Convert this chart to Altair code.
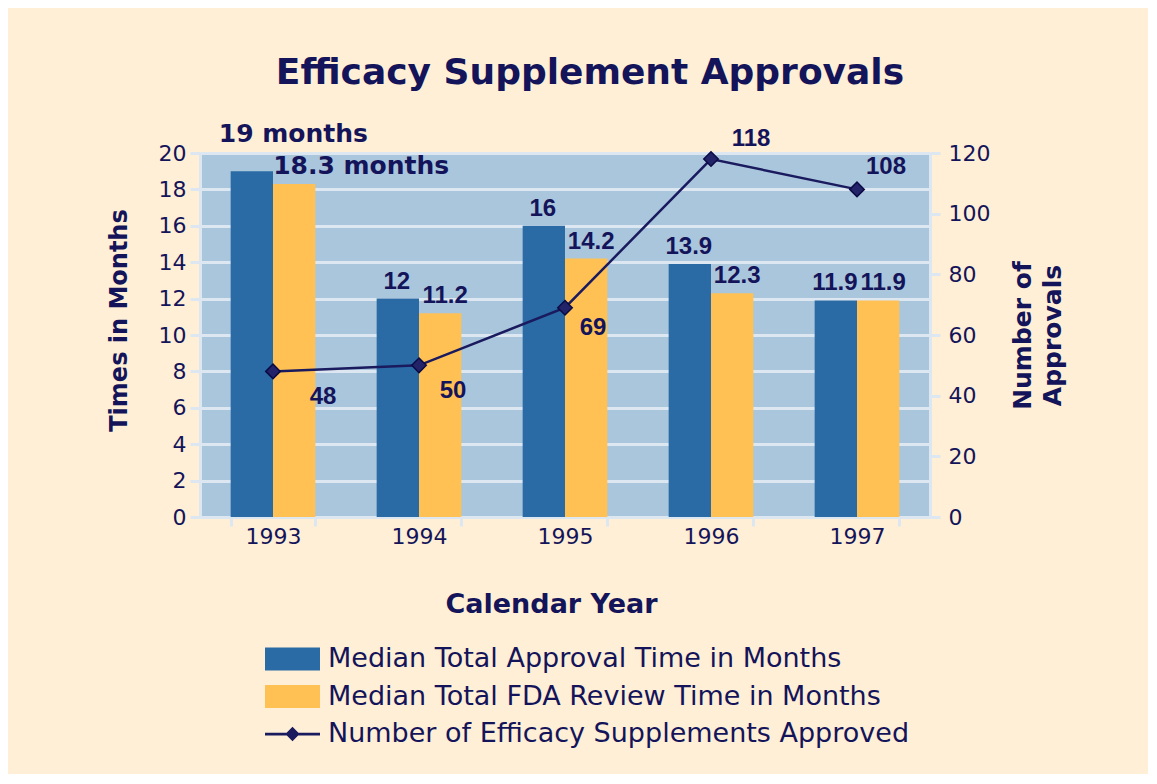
import altair as alt
import pandas as pd

years = ["1993", "1994", "1995", "1996", "1997"]
approval_time = [19, 12, 16, 13.9, 11.9]
review_time = [18.3, 11.2, 14.2, 12.3, 11.9]
approvals_count = [48, 50, 69, 118, 108]
approval_labels = ["19 months", "12", "16", "13.9", "11.9"]
review_labels = ["18.3 months", "11.2", "14.2", "12.3", "11.9"]
series_names = [
    "Median Total Approval Time in Months",
    "Median Total FDA Review Time in Months",
    "Number of Efficacy Supplements Approved",
]
series_colors = ["#2A6BA6", "#FFC154", "#1A1A5E"]
time_ticks = list(range(0, 21, 2))
count_ticks = list(range(0, 121, 20))

FONT = "DejaVu Sans"
NUMFONT = "Liberation Sans"
NAVY = "#14145A"
GRID = "#DCE7F1"
BG = "#FFEFD6"
PLOT_BG = "#AAC6DD"

rect_path = "M-1,-0.42L1,-0.42L1,0.42L-1,0.42Z"
line_path = "M-1,-0.05L1,-0.05L1,0.05L-1,0.05Z M-0.26,0L0,-0.26L0.26,0L0,0.26Z"

bars_df = pd.DataFrame({
    "year": years * 2,
    "series": [series_names[0]] * 5 + [series_names[1]] * 5,
    "value": approval_time + review_time,
    "label": approval_labels + review_labels,
})
line_df = pd.DataFrame({
    "year": years,
    "count": approvals_count,
    "series": [series_names[2]] * 5,
    "label": [str(v) for v in approvals_count],
})

x_axis = alt.Axis(title="Calendar Year", labelAngle=0, labelFont=FONT,
                  labelFontSize=22, labelColor=NAVY, labelPadding=0,
                  tickBand="extent", tickColor=GRID, tickWidth=3, tickSize=9,
                  domainColor=GRID, domainWidth=3,
                  titleFont=FONT, titleFontSize=27, titleFontWeight="bold",
                  titleColor=NAVY, titlePadding=44, titleX=351)
x_enc = alt.X("year:N", sort=years,
              scale=alt.Scale(paddingInner=0.42, paddingOuter=0.21), axis=x_axis)
xoff = alt.XOffset("series:N", sort=series_names[:2], scale=alt.Scale(paddingInner=0, paddingOuter=0))

left_axis = alt.Axis(title="Times in Months", values=time_ticks, grid=True,
                     labelOverlap=False, tickCount=11,
                     gridColor=GRID, gridWidth=3, domainColor=GRID, domainWidth=3,
                     tickColor=GRID, tickWidth=3, tickSize=10,
                     labelFont=FONT, labelFontSize=22, labelColor=NAVY, labelPadding=4,
                     titleFont=FONT, titleFontSize=24, titleFontWeight="bold",
                     titleColor=NAVY, titlePadding=27, titleY=167)
y_left = alt.Y("value:Q", scale=alt.Scale(domain=[0, 20], nice=False), axis=left_axis)

base_bars = alt.Chart(bars_df)
bars = base_bars.mark_bar().encode(
    x=x_enc, xOffset=xoff, y=y_left,
    color=alt.Color("series:N", scale=alt.Scale(domain=series_names, range=series_colors),
                    legend=alt.Legend(title=None)),
)
num_style = dict(font=NUMFONT, fontSize=24, fontWeight="bold", color=NAVY, baseline="middle")
word_style = dict(font=FONT, fontSize=25, fontWeight="bold", color=NAVY, baseline="middle")
bar_text_blue = base_bars.mark_text(align="center", dx=-1, dy=-17, **num_style).encode(
    x=x_enc, xOffset=xoff, y=y_left, text="label:N"
).transform_filter(f"datum.year != '1993' && datum.series == '{series_names[0]}'")
bar_text_orange = base_bars.mark_text(align="center", dx=5, dy=-17, **num_style).encode(
    x=x_enc, xOffset=xoff, y=y_left, text="label:N"
).transform_filter(f"datum.year != '1993' && datum.series == '{series_names[1]}'")
bar_text_a = base_bars.mark_text(align="left", dx=-33, dy=-37, **word_style).encode(
    x=x_enc, xOffset=xoff, y=y_left, text="label:N"
).transform_filter(f"datum.year == '1993' && datum.series == '{series_names[0]}'")
bar_text_b = base_bars.mark_text(align="left", dx=-21, dy=-18, **word_style).encode(
    x=x_enc, xOffset=xoff, y=y_left, text="label:N"
).transform_filter(f"datum.year == '1993' && datum.series == '{series_names[1]}'")

left = alt.layer(bars, bar_text_blue, bar_text_orange, bar_text_a, bar_text_b)

right_axis = alt.Axis(orient="right", title=["Number of", "Approvals"], values=count_ticks,
                      grid=False, labelOverlap=False,
                      domainColor=GRID, domainWidth=3,
                      tickColor=GRID, tickWidth=3, tickSize=10,
                      labelFont=FONT, labelFontSize=22, labelColor=NAVY, labelPadding=8,
                      titleFont=FONT, titleFontSize=25, titleFontWeight="bold",
                      titleColor=NAVY, titleAngle=270, titlePadding=16,
                      titleLineHeight=30)
y_right = alt.Y("count:Q", scale=alt.Scale(domain=[0, 120], nice=False), axis=right_axis)

base_line = alt.Chart(line_df)
line = base_line.mark_line(color="#1A1A5E", strokeWidth=2.5).encode(x=x_enc, y=y_right)
points = base_line.mark_point(shape="diamond", size=210, filled=True, fill="#23236A",
                              stroke="#0B0B45", strokeWidth=1.5, opacity=1).encode(
    x=x_enc, y=y_right)

# label offsets (style only) per year
label_offsets = {"1993": (50, 26), "1994": (34, 26), "1995": (28, 20),
                 "1996": (40, -20), "1997": (29, -22)}
line_texts = [
    base_line.mark_text(align="center", dx=ox, dy=oy, **num_style).encode(
        x=x_enc, y=y_right, text="label:N"
    ).transform_filter(f"datum.year == '{yr}'")
    for yr, (ox, oy) in label_offsets.items()
]
legend_layer = base_line.mark_point(filled=True, opacity=1).encode(
    x=x_enc, y=y_right,
    shape=alt.Shape("series:N", scale=alt.Scale(domain=series_names,
                                                range=[rect_path, rect_path, line_path]),
                    legend=alt.Legend(title=None)),
).transform_filter("datum.count < 0")

right = alt.layer(line, points, *line_texts, legend_layer)

chart = alt.layer(left, right).resolve_scale(y="independent").properties(
    width=730, height=364,
    autosize=alt.AutoSizeParams(type="none"),
    padding={"left": 192, "top": 145, "right": 218, "bottom": 257},
    background=BG,
    title=alt.TitleParams("Efficacy Supplement Approvals", font=FONT, fontSize=36,
                          fontWeight="bold", color=NAVY, anchor="middle", dx=25, offset=30),
).configure_view(fill=PLOT_BG, stroke=None).configure_legend(
    orient="none", legendX=65, legendY=491, labelFont=FONT, labelFontSize=27,
    labelColor=NAVY, symbolSize=3025, rowPadding=7.5, clipHeight=30,
    labelOffset=8, labelLimit=800, symbolStrokeWidth=0, symbolOpacity=1,
)

chart.save("out.html", embed_options={"renderer": "svg", "actions": False})
